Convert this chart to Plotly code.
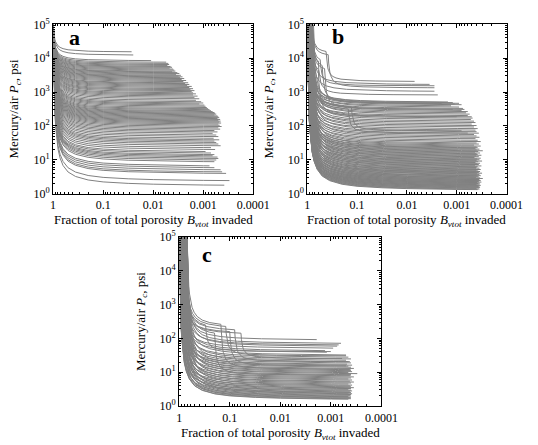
import numpy as np
import plotly.graph_objects as go

# ---------------- data ----------------
# typical entry-knee shape: log-distance below start fraction -> fraction of log-span to 1e5 remaining
knee_L = [0, 0.01, 0.02, 0.035, 0.05, 0.07, 0.1, 0.14, 0.2, 0.3, 0.45, 0.7, 1.0, 1.5, 2.0, 3.0, 4.0]
knee_lift = [1, 0.75, 0.6, 0.46, 0.375, 0.3, 0.23, 0.176, 0.13, 0.09, 0.0625, 0.041, 0.029, 0.02, 0.015, 0.01, 0.0074]

# panel a: plateau Pc (psi) and last invaded fraction
pc_a = [15000, 12000, 8200, 7400, 6800, 6300, 5900, 5500, 5200, 4900, 4600, 4300, 4000, 3800, 3600, 3400,
        3200, 3000, 2850, 2700, 2550, 2400, 2250, 2100, 1950, 1800, 1700, 1600, 1500, 1400, 1300, 1200,
        1120, 1050, 980, 900, 840, 780, 720, 660, 600, 540, 490, 450, 420, 390, 360, 330, 305, 285, 265,
        250, 235, 222, 210, 198, 186, 175, 165, 155, 146, 138, 130, 122, 114, 106, 98, 90, 82, 75, 68, 62,
        56, 50, 45, 40, 36, 33, 30, 27, 24, 21, 18.5, 16, 14.5, 13, 12, 11, 10, 9, 8, 6, 5.3, 4.6, 4, 3.6,
        2.2, 1.6]
end_a = [0.027, 0.025, 0.011, 0.0055, 0.005, 0.0048, 0.0052, 0.0045, 0.0042, 0.0047, 0.004, 0.0038, 0.0036,
         0.0042, 0.0033, 0.003, 0.0035, 0.0028, 0.0031, 0.0026, 0.0029, 0.0024, 0.0027, 0.0022, 0.0025, 0.002,
         0.0023, 0.0019, 0.0021, 0.0017, 0.0019, 0.0016, 0.0018, 0.0015, 0.0017, 0.0016, 0.0014, 0.0016,
         0.0013, 0.0015, 0.0012, 0.0014, 0.0011, 0.001, 0.0012, 0.00095, 0.0009, 0.00085, 0.0008, 0.00075,
         0.0007, 0.00065, 0.0006, 0.00058, 0.00055, 0.0006, 0.00052, 0.0005, 0.00048, 0.00052, 0.00046,
         0.0005, 0.00045, 0.00048, 0.00044, 0.0005, 0.00047, 0.00043, 0.0005, 0.00046, 0.0006, 0.00052,
         0.00065, 0.00055, 0.0005, 0.00062, 0.00048, 0.0006, 0.00055, 0.0005, 0.00045, 0.0007, 0.00058,
         0.0009, 0.0007, 0.0006, 0.00065, 0.00052, 0.0005, 0.00055, 0.0006, 0.00075, 0.0006, 0.00045,
         0.00042, 0.00035, 0.0003, 0.00038]

# panel b
pc_b = [1600, 1000, 480, 460, 440, 420, 400, 370, 340, 310, 290, 270, 250, 230, 210, 190, 175, 160, 145, 130,
        118, 106, 96, 87, 78, 70, 63, 57, 52, 47, 43, 39, 35, 32,
        29, 27, 25, 23.5, 22, 21, 20, 19, 18, 17, 16.2, 15.4, 14.6, 13.9, 13.2, 12.5, 11.9, 11.3, 10.7, 10.2,
        9.7, 9.2, 8.8, 8.4, 8, 7.6, 7.2, 6.9, 6.6, 6.3, 6, 5.7, 5.4, 5.15, 4.9, 4.7, 4.5, 4.3, 4.1, 3.95,
        3.8, 3.65, 3.5, 3.35, 3.2, 3.08, 2.96, 2.85, 2.74, 2.64, 2.54, 2.45, 2.36, 2.28, 2.2, 2.12, 2.05,
        1.98, 1.92, 1.86, 1.8, 1.74, 1.68, 1.63, 1.58, 1.53, 1.48, 1.43, 1.38, 1.33, 1.28, 1.23, 1.18]
end_b = [0.0035, 0.0028, 0.0015, 0.0012, 0.0009, 0.0011, 0.0008, 0.0013, 0.0009, 0.00075, 0.0007, 0.0008,
         0.0006, 0.00065, 0.00055, 0.0006, 0.0005, 0.00048, 0.00052, 0.00045, 0.00042, 0.0005, 0.0004,
         0.00045, 0.00038, 0.00042, 0.0004, 0.00036, 0.00045, 0.0004, 0.00035, 0.00042, 0.00038, 0.00033,
         0.0004, 0.00036, 0.00045, 0.00033, 0.0004, 0.00038, 0.00042, 0.00035, 0.0004, 0.0003, 0.00037,
         0.00043, 0.00034, 0.0004, 0.00038, 0.00032, 0.00041, 0.00036, 0.00044, 0.00033, 0.00039, 0.00035,
         0.0004, 0.00031, 0.00037, 0.00042, 0.00034, 0.00039, 0.00036, 0.00043, 0.00032, 0.00038, 0.0004,
         0.00035, 0.00041, 0.00033, 0.00037, 0.0004, 0.00034, 0.00042, 0.00036, 0.00031, 0.00039, 0.00035,
         0.0004, 0.00033, 0.00038, 0.00036, 0.00041, 0.00034, 0.0003, 0.00037, 0.00035, 0.0004, 0.00033,
         0.00038, 0.00036, 0.00032, 0.00039, 0.00035, 0.00037, 0.00034, 0.0004, 0.00036, 0.00033, 0.00038,
         0.00035, 0.00037, 0.00034, 0.00036, 0.0004, 0.00035, 0.00038]
x0_b = [0.8, 0.82, 0.85, 0.8, 0.9, 0.75, 0.85, 0.95, 0.8, 0.88, 0.92, 0.78, 0.85, 0.9, 0.8, 0.95, 0.85, 0.9,
        0.8, 0.88, 0.93, 0.82, 0.9, 0.86, 0.95, 0.8, 0.9, 0.85, 0.92, 0.82, 0.88, 0.95, 0.84, 0.9,
        0.86, 0.95, 0.8, 0.9, 0.84, 0.97, 0.82, 0.88, 0.93, 0.8, 0.9, 0.85, 0.98, 0.83, 0.9, 0.87, 0.95,
        0.81, 0.89, 0.93, 0.85, 0.99, 0.82, 0.9, 0.87, 0.95, 0.83, 0.92, 0.88, 1.0, 0.85, 0.9, 0.95, 0.86,
        0.92, 0.98, 0.88, 0.94, 1.0, 0.9, 0.96, 0.92, 1.0, 0.94, 0.97, 0.93, 1.0, 0.95, 0.98, 0.94, 1.0,
        0.96, 0.99, 0.95, 1.0, 0.97, 1.0, 0.98, 0.96, 1.0, 0.98, 1.0, 0.99, 1.0, 0.98, 1.0, 1.0, 0.99, 1.0,
        1.0, 1.0, 1.0, 1.0]
# panel b two-step curves: first level, step fraction, second level, end fraction, start fraction
step_b_p1 = [13000, 10500, 6000, 5000, 4000, 3500, 2500, 300, 250]
step_b_xs = [0.42, 0.38, 0.55, 0.6, 0.5, 0.45, 0.6, 0.13, 0.15]
step_b_p2 = [2000, 1300, 1500, 800, 450, 300, 180, 70, 60]
step_b_end = [0.007, 0.0028, 0.0028, 0.0024, 0.002, 0.0012, 0.001, 0.0008, 0.0006]
step_b_x0 = [0.8, 0.8, 0.82, 0.85, 0.8, 0.83, 0.85, 0.9, 0.88]

# panel c
pc_c = [85, 67, 60, 55, 48, 40, 36, 30, 26, 23, 21, 19, 17.5, 16, 15, 14, 13, 12, 11, 10.3, 9.6, 9, 8.4,
        7.8, 7.2, 6.7, 6.2, 5.8, 5.4, 5, 4.7, 4.4, 4.1, 3.8, 3.6, 3.4, 3.2, 3.0, 2.85, 2.7, 2.55, 2.4, 2.3,
        2.2, 2.1, 2.0, 1.9, 1.8, 1.72, 1.65, 1.58, 1.5, 1.45]
end_c = [0.0019, 0.00063, 0.0007, 0.00075, 0.0009, 0.0013, 0.0012, 0.0005, 0.00045, 0.0004, 0.0005, 0.00042,
         0.0004, 0.00048, 0.00038, 0.00045, 0.0004, 0.00035, 0.00042, 0.0004, 0.00038, 0.00045, 0.0003,
         0.0004, 0.00042, 0.00035, 0.0004, 0.00045, 0.00038, 0.00042, 0.00035, 0.0004, 0.00045, 0.00038,
         0.00042, 0.0004, 0.00035, 0.0004, 0.00045, 0.0004, 0.00038, 0.00042, 0.0004, 0.00045, 0.00038,
         0.0004, 0.00042, 0.0004, 0.00045, 0.0004, 0.00042, 0.0004, 0.00045]
x0_c = [0.75, 0.7, 0.8, 0.72, 0.9, 0.78, 0.85, 0.7, 0.82, 0.75, 0.9, 0.7, 0.8, 0.95, 0.72, 0.85, 0.78, 0.9,
        0.7, 0.82, 0.75, 0.92, 0.7, 0.85, 0.78, 0.95, 0.72, 0.88, 0.8, 0.92, 0.75, 0.85, 0.98, 0.7, 0.9,
        0.82, 0.95, 0.76, 0.88, 1.0, 0.8, 0.92, 0.85, 0.97, 0.78, 0.9, 1.0, 0.86, 0.95, 1.0, 0.92, 1.0, 0.98]
step_c_p1 = [180, 150, 200, 120, 100, 160, 130]
step_c_xs = [0.12, 0.08, 0.15, 0.06, 0.2, 0.3, 0.1]
step_c_p2 = [30, 20, 12, 25, 8, 40, 15]
step_c_end = [0.0005, 0.00045, 0.0004, 0.0006, 0.0004, 0.001, 0.0005]
step_c_x0 = [0.75, 0.8, 0.7, 0.85, 0.72, 0.78, 0.9]

x_tickvals = [1, 0.1, 0.01, 0.001, 0.0001]
x_ticktext = ["1", "0.1", "0.01", "0.001", "0.0001"]
y_tickvals = [1, 10, 100, 1000, 10000, 100000]
y_ticktext = ["10<sup>%d</sup>" % i for i in range(6)]
panel_labels = ["a", "b", "c"]

GRAY = "rgb(128,128,128)"
FONT = "Liberation Serif"


# ---------------- curve assembly ----------------
def segment(p_level, p_top, x_start, x_end):
    span = np.log10(p_top) - np.log10(p_level)
    Lmax = np.log10(x_start / x_end)
    L = [l for l in knee_L if l < Lmax] + [Lmax]
    lift = np.interp(L, knee_L, knee_lift)
    xs = x_start * 10 ** (-np.array(L))
    ys = p_level * 10 ** (span * lift)
    return list(xs), list(ys)


def curves(pcs, ends, x0s):
    X, Y = [], []
    for p, e, x0 in zip(pcs, ends, x0s):
        xs, ys = segment(p, 1e5, x0, e)
        X += xs + [None]
        Y += ys + [None]
    return X, Y


def step_curves(p1s, xss, p2s, ends, x0s):
    X, Y = [], []
    for p1, xs_, p2, e, x0 in zip(p1s, xss, p2s, ends, x0s):
        xa, ya = segment(p1, 1e5, x0, xs_)
        xb, yb = segment(p2, ya[-1], xs_, e)
        X += xa + xb[1:] + [None]
        Y += ya + yb[1:] + [None]
    return X, Y


fig = go.Figure()

xa, ya = curves(pc_a, end_a, [1.0] * len(pc_a))
fig.add_trace(go.Scatter(x=xa, y=ya, mode="lines", line=dict(color=GRAY, width=1), xaxis="x", yaxis="y",
                         hoverinfo="skip", showlegend=False))

xb, yb = curves(pc_b, end_b, x0_b)
xb2, yb2 = step_curves(step_b_p1, step_b_xs, step_b_p2, step_b_end, step_b_x0)
fig.add_trace(go.Scatter(x=xb + xb2, y=yb + yb2, mode="lines", line=dict(color=GRAY, width=1),
                         xaxis="x2", yaxis="y2", hoverinfo="skip", showlegend=False))

xc, yc = curves(pc_c, end_c, x0_c)
xc2, yc2 = step_curves(step_c_p1, step_c_xs, step_c_p2, step_c_end, step_c_x0)
fig.add_trace(go.Scatter(x=xc + xc2, y=yc + yc2, mode="lines", line=dict(color=GRAY, width=1),
                         xaxis="x3", yaxis="y3", hoverinfo="skip", showlegend=False))

W, H = 538, 445
boxes = {  # left, right, top, bottom in pixels
    "": (52, 260, 17, 192),
    "2": (316, 523, 17, 192),
    "3": (183, 393, 237, 412),
}

xtitle = "Fraction of total porosity <i>B</i><sub><i>vtot</i></sub> invaded"
ytitle = "Mercury/air <i>P</i><sub><i>c</i></sub>, psi"

layout = dict(width=W, height=H, margin=dict(l=0, r=0, t=0, b=0), paper_bgcolor="white",
              plot_bgcolor="white", font=dict(family=FONT, size=12, color="black"), showlegend=False)
for k, (l, r, t, b) in boxes.items():
    xd = [l / W, r / W]
    yd = [1 - b / H, 1 - t / H]
    common = dict(showline=True, linecolor="black", linewidth=1, mirror="allticks", ticks="inside",
                  ticklen=4, tickcolor="black", showgrid=False, zeroline=False,
                  tickfont=dict(family=FONT, size=12))
    layout["xaxis" + k] = dict(common, type="log", range=[0.0, -4.0], domain=xd, anchor="y" + k,
                               tickvals=x_tickvals, ticktext=x_ticktext,
                               minor=dict(ticks="inside", ticklen=2, tickcolor="black", dtick="D1"))
    layout["yaxis" + k] = dict(common, type="log", range=[0.0, 5.0], domain=yd, anchor="x" + k,
                               tickvals=y_tickvals, ticktext=y_ticktext,
                               minor=dict(ticks="inside", ticklen=2, tickcolor="black", dtick="D1"),
                               title=dict(text=ytitle, font=dict(family=FONT, size=13), standoff=11))

fig.update_layout(**layout)

# x-axis titles placed just under the tick labels
for (l, r, t, b) in boxes.values():
    fig.add_annotation(x=(l + r) / 2 / W, y=1 - (b + 17) / H, xref="paper", yref="paper", text=xtitle,
                       showarrow=False, xanchor="center", yanchor="top",
                       font=dict(family=FONT, size=13, color="black"))

label_pos = [(66, 31), (340, 30), (205, 255)]
for lab, (px, py) in zip(panel_labels, label_pos):
    fig.add_annotation(x=px / W, y=1 - py / H, xref="paper", yref="paper", text="<b>%s</b>" % lab,
                       showarrow=False, xanchor="left", yanchor="middle",
                       font=dict(family=FONT, size=22, color="black"))

fig.write_html("out.html", config={"displayModeBar": False},
               post_script="document.body.style.margin='0px';document.body.style.overflow='hidden';")
